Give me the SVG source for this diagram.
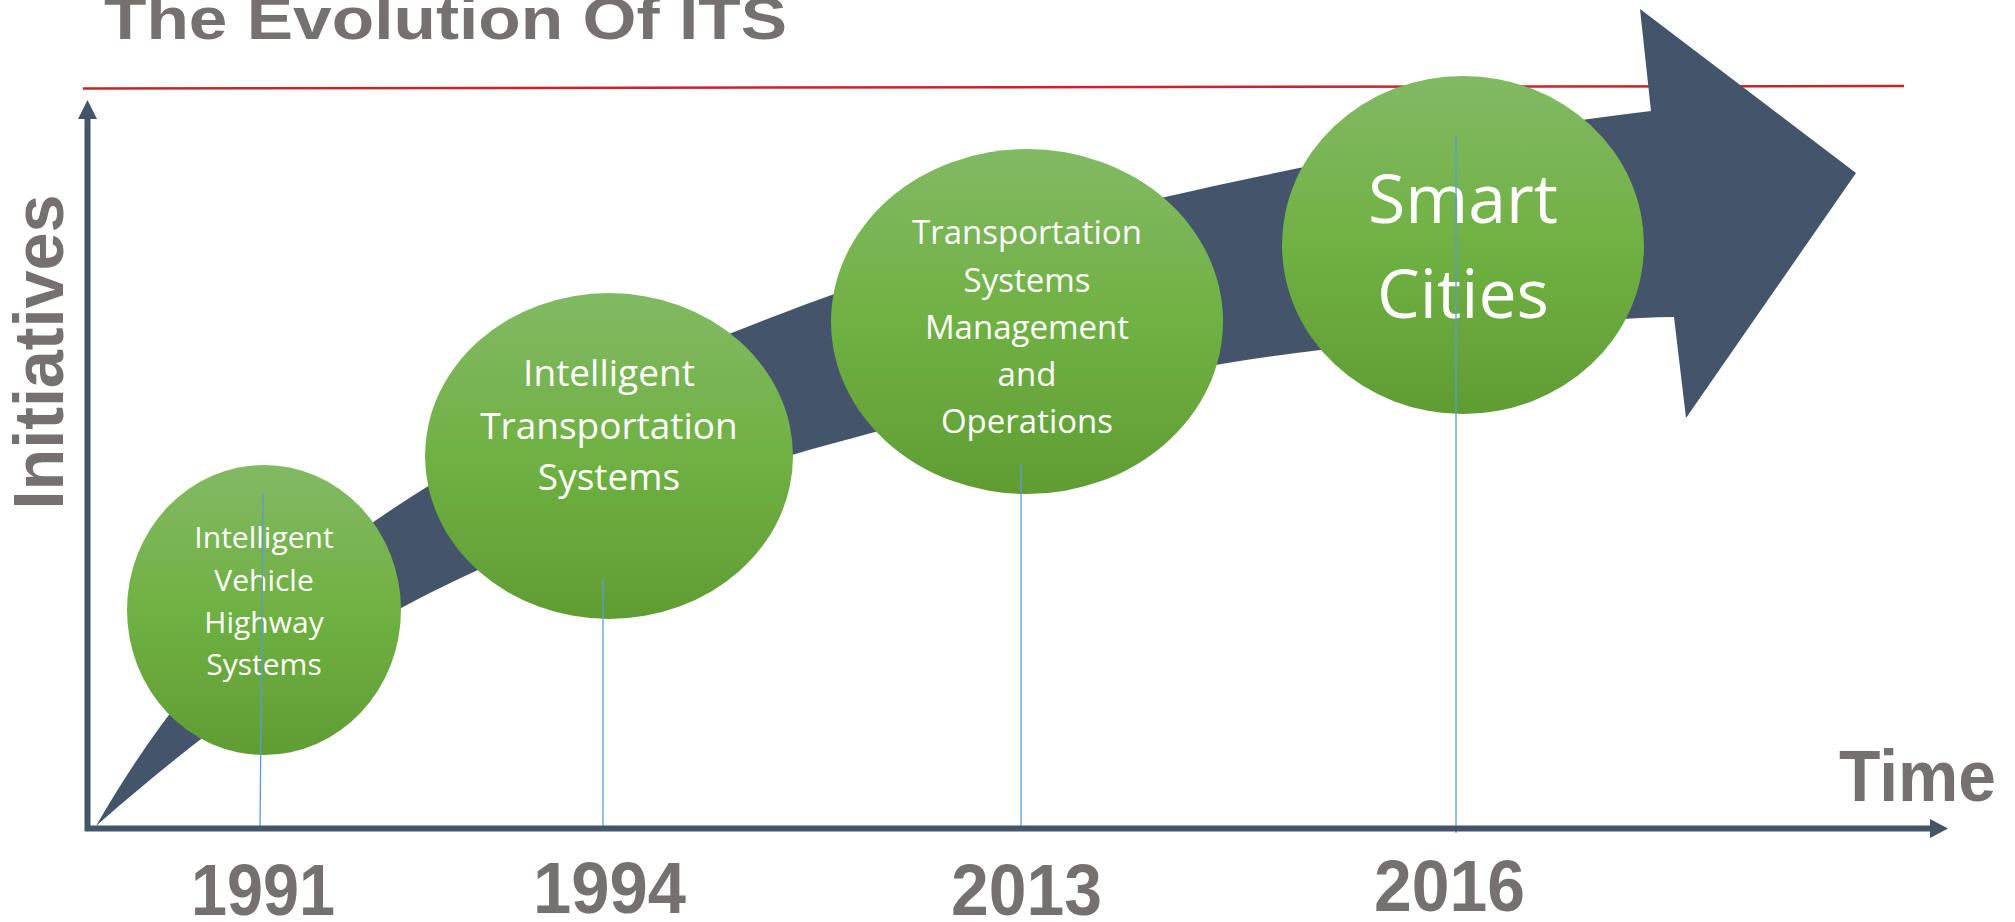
<svg xmlns="http://www.w3.org/2000/svg" width="2015" height="922" viewBox="0 0 2015 922">
<defs>
<linearGradient id="g" x1="0" y1="0" x2="0" y2="1">
<stop offset="0" stop-color="#82b964"/>
<stop offset="0.5" stop-color="#70b143"/>
<stop offset="1" stop-color="#5f9d33"/>
</linearGradient>
<style>
.grey{fill:#767171;font-family:"Liberation Sans",Arial,sans-serif;font-weight:bold}
.ct{fill:#ffffff;font-family:"Open Sans","Noto Sans",sans-serif;text-anchor:middle}
.node{fill:url(#g)}
.tick{stroke:#5b9bd5;stroke-width:1.3;fill:none}
.axis{stroke:#44546a;stroke-width:6;fill:none}
</style>
</defs>
<rect width="2015" height="922" fill="#ffffff"/>
<text class="grey" x="104" y="39" font-size="60" textLength="683" lengthAdjust="spacingAndGlyphs">The Evolution Of ITS</text>
<line x1="83" y1="88.5" x2="1904" y2="86" stroke="#d0202a" stroke-width="2.5"/>
<g id="band">
<path fill="#44546a" d="M96,826 C175,690 260,590 430,485 C583,390 720,335 848,289 C976,243 1060,222 1157,199 C1254,176 1450,135 1651,111 L1640,9 L1856,173 L1686,418 L1674,317 C1580,318 1440,336 1320,350 C1200,364 960,409 875,432 C790,455 656,490 478,570 C300,650 160,770 96,826 Z"/>
</g>
<g id="node1">
<ellipse class="node" cx="264" cy="610" rx="137" ry="145"/>
<text class="ct" font-size="30"><tspan x="264" y="548">Intelligent</tspan><tspan x="264" y="591">Vehicle</tspan><tspan x="264" y="633">Highway</tspan><tspan x="264" y="675">Systems</tspan></text>
</g>
<g id="node2">
<ellipse class="node" cx="609" cy="456" rx="184" ry="163"/>
<text class="ct" font-size="37"><tspan x="609" y="386">Intelligent</tspan><tspan x="609" y="439">Transportation</tspan><tspan x="609" y="490">Systems</tspan></text>
</g>
<g id="node3">
<ellipse class="node" cx="1027" cy="321.5" rx="196" ry="172.5"/>
<text class="ct" font-size="33"><tspan x="1027" y="244">Transportation</tspan><tspan x="1027" y="292">Systems</tspan><tspan x="1027" y="339">Management</tspan><tspan x="1027" y="386">and</tspan><tspan x="1027" y="433">Operations</tspan></text>
</g>
<g id="node4">
<ellipse class="node" cx="1463" cy="245" rx="181" ry="169"/>
<text class="ct" font-size="68"><tspan x="1463" y="223">Smart</tspan><tspan x="1463" y="318">Cities</tspan></text>
</g>
<g id="connectors">
<line class="tick" x1="263" y1="494" x2="260" y2="831"/>
<line class="tick" x1="603" y1="579" x2="603" y2="831"/>
<line class="tick" x1="1021" y1="464" x2="1021" y2="831"/>
<line class="tick" x1="1456" y1="136" x2="1456" y2="833"/>
</g>
<g id="axes">
<line class="axis" x1="87.5" y1="116" x2="87.5" y2="831"/>
<polygon fill="#44546a" points="78,119 87.5,100 97,119"/>
<line class="axis" x1="85" y1="828.5" x2="1932" y2="828.5"/>
<polygon fill="#44546a" points="1930,819 1948,828.5 1930,838"/>
</g>
<text class="grey" font-size="70" text-anchor="middle" transform="translate(63,352) rotate(-90)" textLength="315" lengthAdjust="spacingAndGlyphs">Initiatives</text>
<text class="grey" x="1839" y="801" font-size="72" textLength="157" lengthAdjust="spacingAndGlyphs">Time</text>
<text class="grey" x="191" y="915" font-size="72" textLength="144" lengthAdjust="spacingAndGlyphs">1991</text>
<text class="grey" x="533" y="913" font-size="72" textLength="153" lengthAdjust="spacingAndGlyphs">1994</text>
<text class="grey" x="951" y="915" font-size="72" textLength="151" lengthAdjust="spacingAndGlyphs">2013</text>
<text class="grey" x="1374" y="911" font-size="72" textLength="151" lengthAdjust="spacingAndGlyphs">2016</text>
</svg>
